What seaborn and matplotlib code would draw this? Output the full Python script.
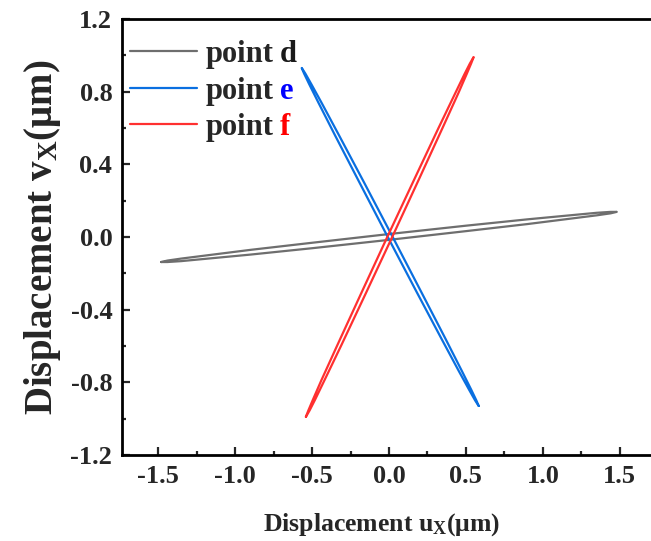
import numpy as np
import pandas as pd
import matplotlib
matplotlib.use("Agg")
import matplotlib.pyplot as plt
import seaborn as sns
from matplotlib.ticker import MultipleLocator, FormatStrFormatter

# Orbit of point d: upper and lower branch sampled along x
d_x = [-1.48, -1.44, -1.35, -1.2, -0.9, -0.5, 0.0, 0.5, 0.9, 1.2, 1.35, 1.44, 1.48]
d_upper = [-0.138, -0.130, -0.119, -0.103, -0.071, -0.032, 0.016, 0.062, 0.097, 0.121, 0.133, 0.138, 0.138]
d_lower = [-0.138, -0.138, -0.133, -0.121, -0.097, -0.062, -0.016, 0.032, 0.071, 0.103, 0.119, 0.130, 0.138]

# Orbit of point e: left and right branch sampled along y
e_y = [-0.93, -0.90, -0.84, -0.74, -0.56, -0.30, 0.0, 0.30, 0.56, 0.74, 0.84, 0.90, 0.93]
e_right = [0.583, 0.568, 0.534, 0.475, 0.367, 0.208, 0.024, -0.162, -0.325, -0.439, -0.504, -0.544, -0.567]
e_left = [0.583, 0.560, 0.520, 0.455, 0.341, 0.178, -0.008, -0.192, -0.351, -0.459, -0.518, -0.552, -0.567]

# Orbit of point f: left and right branch sampled along y
f_y = [-0.99, -0.955, -0.895, -0.79, -0.60, -0.32, 0.0, 0.32, 0.60, 0.79, 0.895, 0.955, 0.99]
f_left = [-0.540, -0.524, -0.494, -0.440, -0.338, -0.186, -0.011, 0.166, 0.322, 0.430, 0.490, 0.526, 0.550]
f_right = [-0.540, -0.516, -0.480, -0.420, -0.312, -0.156, 0.021, 0.196, 0.348, 0.450, 0.504, 0.534, 0.550]

series_names = ["point d", "point e", "point f"]
line_colors = ["#6e6e6e", "#0a6fe0", "#ff3030"]
letter_colors = ["#1a1a1a", "#0000ff", "#ff0000"]


def closed_loop(xa, ya, xb, yb):
    # go out along one branch and back along the other
    xs = list(xa) + list(xb)[::-1]
    ys = list(ya) + list(yb)[::-1]
    return xs, ys


loops = [
    closed_loop(d_x, d_upper, d_x, d_lower),
    closed_loop(e_right, e_y, e_left, e_y),
    closed_loop(f_left, f_y, f_right, f_y),
]

frames = []
for name, (xs, ys) in zip(series_names, loops):
    frames.append(pd.DataFrame({"u": xs, "v": ys, "series": name,
                                "step": np.arange(len(xs))}))
df = pd.concat(frames, ignore_index=True)

sns.set_style("white")
plt.rcParams["font.family"] = ["Liberation Serif", "DejaVu Serif"]
plt.rcParams["font.weight"] = "bold"
plt.rcParams["mathtext.fontset"] = "custom"
plt.rcParams["mathtext.rm"] = "Liberation Serif:bold"
plt.rcParams["mathtext.bf"] = "Liberation Serif:bold"
plt.rcParams["mathtext.it"] = "Liberation Serif:bold"

fig = plt.figure(figsize=(6.51, 5.41), dpi=100)
# the frame runs past the right edge of the figure
ax = fig.add_axes([0.1874, 0.159, 0.8356, 0.806])

sns.lineplot(data=df, x="u", y="v", hue="series", palette=line_colors,
             sort=False, estimator=None, units="series", lw=1.6, ax=ax,
             legend=False)

ax.set_xlim(-1.735, 1.80)
ax.set_ylim(-1.2, 1.2)
ax.xaxis.set_major_locator(MultipleLocator(0.5))
ax.xaxis.set_minor_locator(MultipleLocator(0.25))
ax.yaxis.set_major_locator(MultipleLocator(0.4))
ax.yaxis.set_minor_locator(MultipleLocator(0.2))
ax.xaxis.set_major_formatter(FormatStrFormatter("%.1f"))
ax.yaxis.set_major_formatter(FormatStrFormatter("%.1f"))

ax.spines["right"].set_visible(False)
for side in ["left", "bottom", "top"]:
    ax.spines[side].set_linewidth(2.0)
    ax.spines[side].set_color("black")

ax.tick_params(which="major", direction="in", length=6, width=1.6,
               labelsize=19, pad=7, left=True, bottom=True)
ax.tick_params(which="minor", direction="in", length=3, width=1.6,
               left=True, bottom=True)
for lab in ax.get_xticklabels() + ax.get_yticklabels():
    lab.set_fontweight("bold")

ax.set_xlabel(r"Displacement u$_{\mathbf{X}}$(μm)", fontsize=18.5,
              fontweight="bold")
ax.xaxis.set_label_coords(0.478, -0.128)
ax.set_ylabel(r"Displacement v$_{\mathbf{X}}$(μm)", fontsize=28,
              fontweight="bold", labelpad=5)

# legend: "point" in black, the point letter in its own colour
handles = [plt.Line2D([], [], color=c, lw=1.6) for c in line_colors]
leg = ax.legend(handles, ["point"] * 3, loc="upper left", frameon=False,
                fontsize=22, handlelength=2.2, handletextpad=0.26,
                labelspacing=0.25, borderaxespad=0.0, borderpad=0.0,
                bbox_to_anchor=(0.0147, 0.952))
for txt in leg.get_texts():
    txt.set_fontweight("bold")
fig.canvas.draw()
for txt, name, col in zip(leg.get_texts(), series_names, letter_colors):
    ax.annotate(name.split()[-1], xy=(1, 0), xycoords=txt,
                xytext=(5, 0), textcoords="offset points",
                ha="left", va="bottom", fontsize=22, fontweight="bold",
                color=col)

fig.savefig("out.png", dpi=100)
